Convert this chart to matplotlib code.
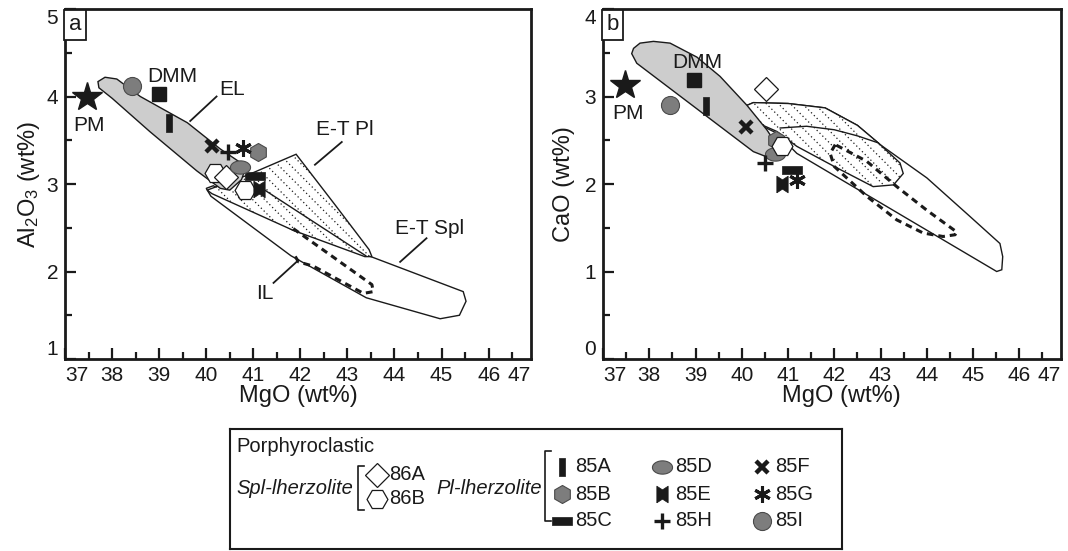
import numpy as np
import matplotlib
matplotlib.use("Agg")
import matplotlib.pyplot as plt
from matplotlib.path import Path
from matplotlib.patches import Polygon

plt.rcParams["font.family"] = ["Liberation Sans", "DejaVu Sans"]
plt.rcParams["mathtext.fontset"] = "custom"
plt.rcParams["mathtext.rm"] = "Liberation Sans"
plt.rcParams["mathtext.it"] = "Liberation Sans:italic"

# ---------- samples (a: MgO vs Al2O3, b: MgO vs CaO) ----------
SAMPLES = ["85A", "85B", "85C", "85D", "85E", "85F", "85G", "85H", "85I", "86A", "86B"]
MGO_A = [39.20, 41.11, 41.04, 40.72, 41.13, 40.12, 40.79, 40.47, 38.42, 40.43, 40.82]
AL2O3 = [3.70, 3.37, 3.09, 3.20, 2.94, 3.43, 3.41, 3.37, 4.12, 3.08, 2.93]
MGO_B = [39.22, 40.75, 41.08, 40.72, 40.88, 40.09, 41.19, 40.50, 38.45, 40.52, 40.86]
CAO = [2.89, 2.50, 2.16, 2.34, 2.00, 2.65, 2.05, 2.24, 2.90, 3.09, 2.43]
# second open hexagon visible in panel a
HEX2_A = (40.19, 3.13)

# reference compositions
PM_A = (37.46, 4.00)
PM_B = (37.48, 3.13)
DMM_A = (39.00, 4.03)
DMM_B = (38.97, 3.19)

# ---------- fields, panel a ----------
EL_A_X = [37.70, 37.85, 38.10, 38.60, 39.60, 40.30, 40.85, 40.75, 40.50, 40.30, 39.80, 38.80, 38.00, 37.72]
EL_A_Y = [4.17, 4.22, 4.20, 4.00, 3.70, 3.40, 3.20, 3.05, 2.93, 2.95, 3.15, 3.60, 3.98, 4.10]
ETSPL_A_X = [40.00, 40.15, 41.85, 43.40, 45.46, 45.52, 45.38, 44.97, 43.40, 41.80, 40.10]
ETSPL_A_Y = [2.95, 2.98, 2.47, 2.19, 1.77, 1.66, 1.50, 1.46, 1.70, 2.18, 2.86]
ETPL_A_X = [40.02, 40.87, 41.91, 42.74, 43.46, 43.52, 43.37, 41.85, 40.12]
ETPL_A_Y = [2.93, 3.10, 3.34, 2.76, 2.25, 2.17, 2.17, 2.47, 2.89]
ETPL_A_LINE_X = [41.10, 43.39]
ETPL_A_LINE_Y = [2.98, 2.18]
IL_A_X = [41.85, 43.52, 43.55, 43.34, 42.28, 41.96, 41.85]
IL_A_Y = [2.49, 1.85, 1.77, 1.75, 2.06, 2.11, 2.21]

# ---------- fields, panel b ----------
EL_B_X = [37.62, 37.66, 37.80, 38.09, 38.45, 39.03, 39.53, 40.11, 40.54, 40.78, 40.72, 40.54, 40.25, 37.73]
EL_B_Y = [3.49, 3.55, 3.61, 3.63, 3.61, 3.45, 3.23, 2.90, 2.62, 2.43, 2.34, 2.31, 2.37, 3.38]
ETSPL_B_X = [40.03, 40.25, 41.00, 41.80, 42.50, 42.99, 44.00, 44.93, 45.58, 45.64, 45.62, 45.51, 41.19, 40.76, 40.03]
ETSPL_B_Y = [2.88, 2.93, 2.92, 2.87, 2.67, 2.45, 2.07, 1.63, 1.32, 1.17, 1.02, 1.00, 2.35, 2.58, 2.77]
ETPL_B_X = [40.03, 40.25, 41.00, 41.80, 42.50, 42.95, 43.42, 43.49, 43.28, 42.84, 42.00, 41.19, 40.76, 40.03]
ETPL_B_Y = [2.88, 2.93, 2.92, 2.87, 2.67, 2.47, 2.24, 2.12, 1.99, 1.97, 2.20, 2.43, 2.60, 2.77]
ETPL_B_LINE_X = [40.83, 41.40, 42.00, 42.50, 42.95]
ETPL_B_LINE_Y = [2.64, 2.66, 2.62, 2.55, 2.47]
IL_B_X = [42.02, 41.91, 42.00, 42.70, 43.35, 43.92, 44.35, 44.61, 44.65, 44.00, 43.35, 42.70, 42.02]
IL_B_Y = [2.45, 2.35, 2.20, 1.86, 1.59, 1.44, 1.40, 1.42, 1.45, 1.70, 1.97, 2.26, 2.45]

# ---------- text labels ----------
LABELS_A = ["PM", "DMM", "EL", "E-T Pl", "E-T Spl", "IL"]
LABEL_A_X = [37.50, 39.27, 40.54, 42.95, 44.75, 41.25]
LABEL_A_Y = [3.67, 4.23, 4.08, 3.62, 2.49, 1.75]
LEADERS_A = [((40.22, 39.66), (4.00, 3.72)),
             ((42.88, 42.31), (3.48, 3.22)),
             ((44.68, 44.12), (2.38, 2.11)),
             ((41.43, 41.96), (1.87, 2.13))]
LABELS_B = ["PM", "DMM"]
LABEL_B_X = [37.53, 39.03]
LABEL_B_Y = [2.81, 3.39]

# ---------- styles ----------
INK = "#1a1a1a"
GREY = "#7d7d7d"
GREY_EDGE = "#4a4a4a"
FIELD = "#cdcdcd"

VBAR = Path([(-0.18, -0.5), (0.18, -0.5), (0.18, 0.5), (-0.18, 0.5), (-0.18, -0.5)])
HBAR = Path([(-0.5, -0.2), (0.5, -0.2), (0.5, 0.2), (-0.5, 0.2), (-0.5, -0.2)])
BOWTIE = Path([(-0.34, -0.5), (0.0, -0.28), (0.34, -0.5), (0.34, 0.5), (0.0, 0.28), (-0.34, 0.5), (-0.34, -0.5)])
t = np.linspace(0, 2 * np.pi, 40)
ELLIPSE = Path(np.column_stack([0.5 * np.cos(t), 0.33 * np.sin(t)]))

STYLE = {
    "85A": dict(marker=VBAR, ms=13, mfc=INK, mec=INK, mew=0.5),
    "85B": dict(marker="h", ms=13, mfc=GREY, mec=GREY_EDGE, mew=0.8),
    "85C": dict(marker=HBAR, ms=14, mfc=INK, mec=INK, mew=0.5),
    "85D": dict(marker=ELLIPSE, ms=14.5, mfc=GREY, mec=GREY_EDGE, mew=0.8),
    "85E": dict(marker=BOWTIE, ms=12, mfc=INK, mec=INK, mew=0.5),
    "85F": dict(marker="x", ms=8, mfc=INK, mec=INK, mew=3.2),
    "85G": dict(marker=(6, 2, 0), ms=12, mfc=INK, mec=INK, mew=2.2),
    "85H": dict(marker="+", ms=12, mfc=INK, mec=INK, mew=2.4),
    "85I": dict(marker="o", ms=13, mfc=GREY, mec=GREY_EDGE, mew=0.8),
    "86A": dict(marker="D", ms=12, mfc="white", mec=INK, mew=0.9),
    "86B": dict(marker="H", ms=15, mfc="white", mec=INK, mew=0.9),
}

W, H = 1068, 551
fig = plt.figure(figsize=(W / 100, H / 100), dpi=100)


def px_axes(l, t, r, b):
    return fig.add_axes([l / W, 1 - b / H, (r - l) / W, (b - t) / H])


def style_axis(ax, ylo, yhi, ylabel, letter, xlab_x, ylab_x):
    ax.set_xlim(37, 46.9)
    ax.set_ylim(ylo, yhi)
    ax.set_xticks(list(range(37, 47)) + [46.9])
    ax.set_xticklabels([str(v) for v in range(37, 48)])
    ax.set_xticks(np.arange(37.5, 46.9, 1.0), minor=True)
    ax.set_yticks(list(range(ylo, yhi + 1)))
    ax.set_yticks(np.arange(ylo + 0.5, yhi, 1.0), minor=True)
    ax.tick_params(which="both", direction="in", width=1.6, colors=INK,
                   labelsize=15, pad=5)
    ax.tick_params(which="major", length=8)
    ax.tick_params(which="minor", length=5)
    for sp in ax.spines.values():
        sp.set_linewidth(2)
        sp.set_color(INK)
    xl = ax.get_xticklabels()
    xl[0].set_ha("left")
    xl[-1].set_ha("right")
    ax.xaxis.get_major_ticks()[-1].tick1line.set_visible(False)
    yl = ax.get_yticklabels()
    yl[0].set_va("bottom")
    yl[-1].set_va("top")
    ax.set_xlabel("MgO (wt%)", fontsize=17, color=INK)
    ax.xaxis.set_label_coords(xlab_x, -0.075)
    ax.set_ylabel(ylabel, fontsize=17, color=INK)
    ax.yaxis.set_label_coords(ylab_x, 0.5)
    ax.text(0.008, 0.985, letter, transform=ax.transAxes, ha="left", va="top",
            fontsize=16, color=INK,
            bbox=dict(boxstyle="square,pad=0.2", fc="white", ec=INK, lw=1.3))


def field(ax, xs, ys, fc="white", ls="-", lw=1.0, z=1):
    p = Polygon(np.column_stack([xs, ys]), closed=True, fc=fc, ec=INK,
                lw=lw, ls=ls, zorder=z)
    ax.add_patch(p)
    return p


def dotted(ax, xs, ys, z=2, spacing=8.5):
    p = field(ax, xs, ys, z=z)
    bb = ax.get_position()
    sx = bb.width * W / np.diff(ax.get_xlim())[0]
    sy = bb.height * H / np.diff(ax.get_ylim())[0]
    c = sx * np.asarray(xs) + sy * np.asarray(ys)
    gx = np.array([min(xs), max(xs)])
    for ci in np.arange(c.min(), c.max(), spacing * np.sqrt(2)):
        ln, = ax.plot(gx, (ci - sx * gx) / sy, color=INK, lw=0.9,
                      ls=(0, (1, 2.2)), zorder=z)
        ln.set_clip_path(p)


ax_a = px_axes(65, 9, 531, 359)
ax_b = px_axes(603, 9, 1061, 359)
style_axis(ax_a, 1, 5, "Al$_2$O$_3$ (wt%)", "a", 0.5, -0.05)
style_axis(ax_b, 0, 4, "CaO (wt%)", "b", 0.52, -0.062)

# ---------- panel a ----------
field(ax_a, ETSPL_A_X, ETSPL_A_Y, z=1)
dotted(ax_a, ETPL_A_X, ETPL_A_Y, z=2)
ax_a.plot(ETPL_A_LINE_X, ETPL_A_LINE_Y, color=INK, lw=1.0, zorder=2)
ax_a.plot(IL_A_X, IL_A_Y, color=INK, lw=2.2, ls=(0, (2.2, 1.6)), zorder=2)
field(ax_a, EL_A_X, EL_A_Y, fc=FIELD, z=2)

for (lx, ly) in LEADERS_A:
    ax_a.plot(lx, ly, color=INK, lw=1.3, zorder=2)
for s, x, y in zip(LABELS_A, LABEL_A_X, LABEL_A_Y):
    ax_a.text(x, y, s, ha="center", va="center", fontsize=15, color=INK, zorder=6)

ax_a.plot(*HEX2_A, ls="none", zorder=3, **STYLE["86B"])
for s, x, y in zip(SAMPLES, MGO_A, AL2O3):
    z = 3 if s.startswith("86") else 4
    ax_a.plot(x, y, ls="none", zorder=z, **STYLE[s])
ax_a.plot(*PM_A, ls="none", marker="*", ms=22, mfc=INK, mec=INK, zorder=5)
ax_a.plot(*DMM_A, ls="none", marker="s", ms=10, mfc=INK, mec=INK, zorder=5)

# ---------- panel b ----------
field(ax_b, ETSPL_B_X, ETSPL_B_Y, z=1)
dotted(ax_b, ETPL_B_X, ETPL_B_Y, z=2)
ax_b.plot(ETPL_B_LINE_X, ETPL_B_LINE_Y, color=INK, lw=1.0, zorder=2)
ax_b.plot(IL_B_X, IL_B_Y, color=INK, lw=2.2, ls=(0, (2.2, 1.6)), zorder=2)
field(ax_b, EL_B_X, EL_B_Y, fc=FIELD, z=2)
for s, x, y in zip(LABELS_B, LABEL_B_X, LABEL_B_Y):
    ax_b.text(x, y, s, ha="center", va="center", fontsize=15, color=INK, zorder=6)
for s, x, y in zip(SAMPLES, MGO_B, CAO):
    z = 5 if s.startswith("86") else 4
    ax_b.plot(x, y, ls="none", zorder=z, **STYLE[s])
ax_b.plot(*PM_B, ls="none", marker="*", ms=22, mfc=INK, mec=INK, zorder=5)
ax_b.plot(*DMM_B, ls="none", marker="s", ms=10, mfc=INK, mec=INK, zorder=5)

# ---------- legend box ----------
axl = px_axes(230, 429, 842, 549)
axl.set_xlim(230, 842)
axl.set_ylim(549, 429)
axl.set_xticks([])
axl.set_yticks([])
for sp in axl.spines.values():
    sp.set_linewidth(1.5)
    sp.set_color(INK)


def bracket(x, y0, y1, hook=6):
    axl.plot([x + hook, x, x, x + hook], [y0, y0, y1, y1], color=INK, lw=1.2)


FS = 14.5
axl.text(236, 446, "Porphyroclastic", ha="left", va="center", fontsize=FS, color=INK)
axl.text(236, 489, "Spl-lherzolite", ha="left", va="center", fontsize=FS,
         style="italic", color=INK)
bracket(358, 466, 510)
for s, y in zip(["86A", "86B"], [475, 499]):
    axl.plot(377, y, ls="none", **STYLE[s])
    axl.text(389, y, s, ha="left", va="center", fontsize=FS, color=INK)
axl.text(436, 489, "Pl-lherzolite", ha="left", va="center", fontsize=FS,
         style="italic", color=INK)
bracket(545, 451, 521)

LEG_COLS = [["85A", "85B", "85C"], ["85D", "85E", "85H"], ["85F", "85G", "85I"]]
for col, mx in zip(LEG_COLS, [562, 662, 762]):
    for s, y in zip(col, [467, 494, 521]):
        axl.plot(mx, y, ls="none", **STYLE[s])
        axl.text(mx + 13, y, s, ha="left", va="center", fontsize=FS, color=INK)

fig.savefig("out.png", dpi=100)
